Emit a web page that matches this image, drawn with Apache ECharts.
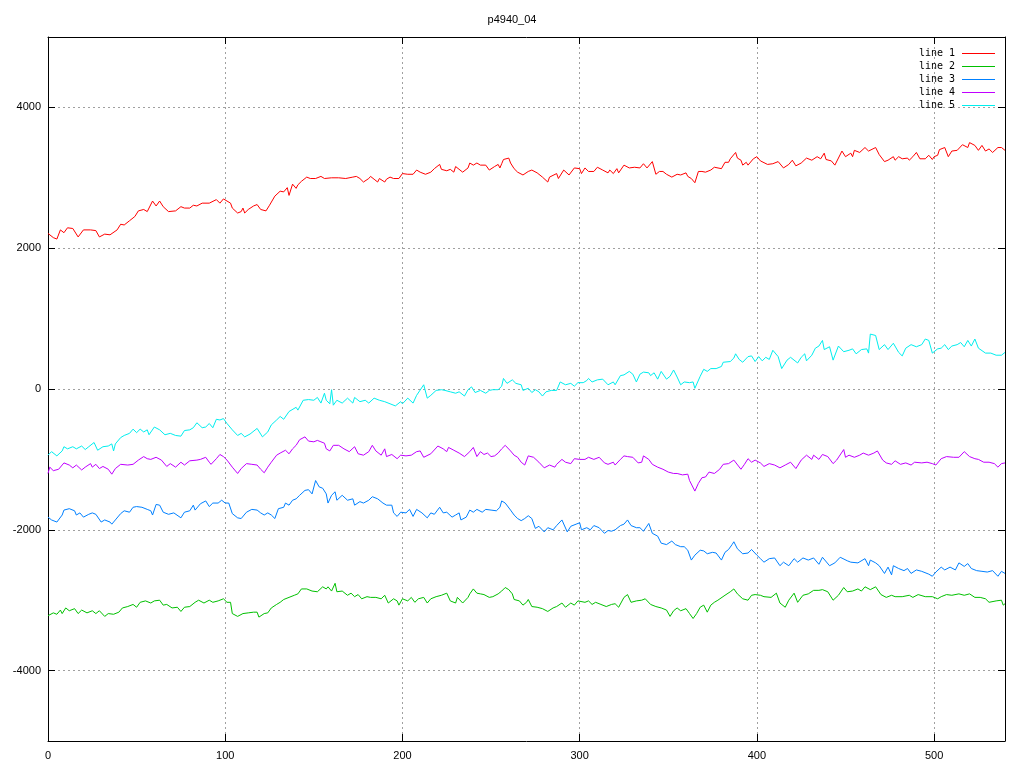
<!DOCTYPE html>
<html>
<head>
<meta charset="utf-8">
<script src="https://cdn.jsdelivr.net/npm/echarts@6/dist/echarts.min.js"></script>
<style>html,body{margin:0;padding:0;background:#fff}#c{width:1024px;height:768px}</style>
</head>
<body>
<div id="c"></div>
<script>
const chartTitle = 'p4940_04';
const seriesNames = ['line 1', 'line 2', 'line 3', 'line 4', 'line 5'];
const xTicks = [0, 100, 200, 300, 400, 500];
const yTicks = [-4000, -2000, 0, 2000, 4000];

// [x, value] pairs
const line1 = [[0,2210],[3,2150],[5,2130],[7,2260],[9,2220],[11,2290],[14,2280],[17,2160],[20,2260],[24,2260],[27,2250],[29,2160],[32,2200],[35,2190],[39,2260],[41,2340],[43,2330],[46,2390],[49,2450],[51,2530],[54,2550],[56,2520],[59,2670],[61,2600],[63,2670],[65,2590],[68,2520],[72,2530],[75,2590],[77,2570],[80,2570],[82,2610],[84,2600],[87,2640],[91,2640],[95,2690],[97,2640],[99,2700],[100,2700],[103,2640],[104,2570],[107,2500],[109,2520],[110,2570],[111,2500],[113,2550],[116,2600],[118,2620],[120,2550],[123,2530],[125,2610],[128,2740],[131,2810],[133,2800],[135,2860],[136,2750],[138,2910],[140,2850],[141,2900],[143,2950],[144,2940],[146,3010],[148,2990],[151,2990],[154,3020],[156,2990],[160,3000],[161,2980],[164,3000],[168,2990],[172,3010],[174,3020],[176,2990],[178,2940],[181,2990],[182,3020],[184,2980],[186,2940],[187,2990],[190,2940],[191,2980],[193,3010],[195,2990],[198,2990],[200,3060],[203,3050],[206,3050],[208,3110],[210,3080],[213,3050],[216,3080],[218,3130],[221,3190],[222,3120],[225,3100],[227,3120],[229,3080],[230,3160],[234,3080],[237,3140],[238,3210],[240,3180],[242,3210],[244,3180],[247,3180],[249,3110],[252,3160],[254,3190],[255,3140],[256,3200],[257,3260],[260,3280],[261,3210],[263,3130],[265,3080],[268,3040],[271,3090],[272,3070],[273,3110],[276,3070],[279,3010],[282,2940],[283,3010],[287,3060],[288,2990],[291,3110],[294,3040],[297,3140],[300,3130],[301,3060],[303,3140],[305,3090],[308,3090],[310,3150],[313,3110],[316,3070],[317,3110],[319,3060],[321,3130],[322,3070],[325,3180],[328,3140],[331,3150],[334,3140],[336,3200],[338,3140],[341,3230],[343,3050],[345,3090],[347,3090],[349,3050],[352,3010],[355,3050],[357,3040],[360,3070],[361,3020],[363,2990],[365,2930],[367,3090],[369,3090],[371,3080],[374,3110],[376,3150],[380,3130],[382,3220],[384,3220],[385,3270],[388,3360],[389,3280],[391,3250],[392,3180],[394,3220],[395,3180],[398,3270],[400,3300],[402,3240],[406,3190],[407,3180],[409,3200],[412,3230],[415,3140],[418,3190],[420,3250],[422,3170],[425,3210],[428,3280],[431,3250],[434,3300],[436,3270],[438,3350],[439,3260],[442,3240],[444,3180],[445,3170],[448,3380],[450,3300],[453,3350],[454,3300],[455,3390],[458,3360],[461,3430],[463,3380],[467,3430],[469,3330],[472,3230],[474,3250],[477,3300],[478,3250],[480,3300],[482,3270],[485,3280],[486,3250],[488,3300],[490,3360],[492,3270],[495,3270],[497,3320],[499,3260],[500,3300],[502,3320],[503,3400],[506,3430],[508,3300],[510,3380],[513,3390],[516,3470],[519,3430],[520,3500],[523,3460],[525,3390],[527,3460],[529,3380],[531,3410],[533,3360],[536,3430],[538,3430],[540,3390]];

const line2 = [[0,-3220],[3,-3180],[5,-3200],[7,-3140],[8,-3190],[10,-3110],[12,-3150],[15,-3120],[17,-3190],[19,-3140],[22,-3180],[25,-3150],[27,-3190],[29,-3150],[32,-3230],[34,-3190],[37,-3200],[40,-3170],[42,-3110],[45,-3090],[48,-3060],[50,-3100],[52,-3030],[55,-3010],[58,-3040],[60,-3010],[63,-3000],[65,-3070],[67,-3060],[70,-3110],[73,-3100],[75,-3160],[77,-3100],[80,-3090],[83,-3030],[85,-3000],[88,-3040],[91,-3000],[93,-3030],[96,-3010],[99,-2980],[101,-3030],[103,-3030],[104,-3190],[107,-3230],[110,-3190],[113,-3180],[116,-3170],[118,-3170],[119,-3240],[122,-3190],[124,-3180],[126,-3110],[129,-3060],[131,-3030],[133,-2990],[136,-2960],[139,-2930],[141,-2910],[143,-2840],[146,-2840],[149,-2870],[152,-2880],[155,-2810],[157,-2840],[158,-2810],[160,-2870],[162,-2760],[163,-2880],[166,-2870],[169,-2930],[171,-2900],[173,-2950],[175,-2920],[177,-2980],[180,-2950],[182,-2960],[185,-2960],[188,-2980],[190,-2930],[192,-3040],[195,-2980],[197,-3010],[198,-3070],[200,-2980],[203,-3010],[205,-2960],[207,-3030],[209,-2980],[212,-2960],[214,-3040],[216,-2980],[219,-2950],[222,-2930],[225,-2900],[227,-3010],[230,-3040],[231,-2960],[234,-3040],[237,-2960],[238,-2910],[240,-2840],[242,-2900],[244,-2910],[246,-2920],[249,-2960],[251,-2950],[254,-2910],[256,-2870],[258,-2820],[260,-2850],[262,-2910],[263,-2990],[266,-3010],[268,-3070],[270,-3030],[271,-2990],[273,-3090],[276,-3100],[279,-3120],[282,-3160],[285,-3110],[287,-3090],[290,-3040],[292,-3100],[295,-3040],[297,-3070],[299,-3010],[303,-3030],[305,-3010],[307,-3060],[309,-3030],[312,-3060],[315,-3090],[318,-3060],[320,-3050],[322,-3100],[325,-2960],[327,-2920],[329,-3030],[332,-3010],[335,-3000],[337,-2980],[340,-3060],[343,-3090],[346,-3110],[349,-3140],[351,-3230],[353,-3150],[355,-3110],[357,-3150],[360,-3120],[362,-3190],[364,-3260],[366,-3190],[368,-3100],[370,-3070],[372,-3170],[374,-3070],[376,-3030],[378,-3000],[382,-2930],[385,-2880],[387,-2840],[389,-2910],[392,-2980],[395,-3000],[397,-2930],[399,-2920],[402,-2930],[404,-2950],[408,-2960],[411,-2900],[413,-3040],[416,-3100],[418,-3000],[421,-2900],[423,-3030],[426,-2930],[429,-2910],[432,-2860],[435,-2860],[437,-2850],[440,-2880],[443,-3000],[446,-2930],[449,-2820],[451,-2880],[454,-2870],[457,-2840],[459,-2870],[461,-2810],[464,-2850],[467,-2810],[468,-2810],[470,-2920],[473,-2960],[476,-2930],[478,-2950],[482,-2950],[486,-2930],[488,-2960],[491,-2920],[495,-2950],[499,-2950],[502,-2980],[504,-2950],[507,-2920],[510,-2930],[514,-2910],[517,-2930],[520,-2910],[523,-2960],[526,-2960],[529,-2980],[531,-3030],[535,-3010],[538,-3000],[539,-3070],[540,-3050]];

const line3 = [[0,-1820],[2,-1860],[5,-1890],[8,-1790],[9,-1720],[12,-1700],[15,-1730],[16,-1790],[18,-1760],[20,-1820],[23,-1780],[25,-1760],[27,-1780],[30,-1890],[32,-1860],[35,-1890],[36,-1920],[38,-1860],[41,-1770],[43,-1730],[46,-1750],[48,-1680],[50,-1670],[53,-1680],[56,-1710],[58,-1730],[59,-1790],[61,-1640],[63,-1650],[65,-1750],[68,-1780],[71,-1760],[75,-1830],[77,-1750],[80,-1730],[82,-1650],[83,-1720],[86,-1630],[89,-1590],[91,-1670],[93,-1620],[96,-1620],[98,-1580],[100,-1620],[102,-1620],[104,-1770],[107,-1830],[109,-1840],[112,-1750],[115,-1710],[118,-1720],[120,-1760],[122,-1790],[124,-1760],[126,-1790],[128,-1840],[130,-1700],[133,-1680],[134,-1620],[136,-1650],[138,-1580],[140,-1560],[142,-1510],[145,-1440],[147,-1430],[149,-1490],[151,-1300],[153,-1390],[155,-1410],[157,-1490],[158,-1620],[160,-1510],[162,-1460],[163,-1580],[166,-1510],[169,-1580],[172,-1560],[173,-1650],[176,-1600],[178,-1620],[181,-1580],[183,-1530],[186,-1560],[189,-1620],[191,-1650],[194,-1650],[195,-1760],[197,-1810],[199,-1750],[202,-1760],[204,-1710],[206,-1810],[208,-1710],[211,-1760],[214,-1830],[216,-1760],[218,-1780],[221,-1680],[223,-1760],[225,-1750],[228,-1820],[230,-1790],[232,-1760],[233,-1860],[236,-1820],[238,-1720],[240,-1750],[242,-1710],[245,-1750],[247,-1710],[250,-1720],[253,-1730],[255,-1680],[256,-1590],[258,-1620],[261,-1720],[263,-1790],[265,-1840],[267,-1870],[269,-1840],[271,-1800],[273,-1840],[275,-1980],[277,-1950],[280,-2030],[282,-1970],[285,-2000],[287,-1940],[290,-1860],[293,-2030],[295,-1950],[298,-1920],[300,-1900],[301,-2000],[304,-1970],[306,-2000],[308,-1940],[311,-1970],[314,-2050],[316,-2010],[318,-2020],[320,-2000],[323,-1940],[325,-1920],[327,-1860],[329,-1940],[332,-1970],[334,-1970],[336,-2020],[339,-1910],[341,-2050],[344,-2090],[346,-2190],[349,-2210],[352,-2160],[354,-2210],[357,-2240],[359,-2240],[361,-2290],[363,-2430],[365,-2360],[368,-2290],[370,-2300],[372,-2340],[375,-2320],[377,-2330],[380,-2430],[382,-2320],[384,-2280],[386,-2210],[387,-2170],[389,-2270],[392,-2340],[395,-2330],[397,-2280],[400,-2360],[402,-2410],[404,-2460],[407,-2410],[410,-2400],[413,-2510],[415,-2460],[418,-2510],[421,-2410],[423,-2460],[426,-2400],[429,-2430],[432,-2400],[435,-2490],[437,-2390],[441,-2510],[444,-2470],[447,-2390],[451,-2440],[453,-2460],[457,-2470],[461,-2410],[463,-2510],[464,-2430],[467,-2470],[469,-2510],[472,-2620],[474,-2530],[476,-2640],[477,-2510],[480,-2550],[483,-2580],[485,-2550],[487,-2620],[490,-2570],[493,-2590],[497,-2630],[499,-2660],[501,-2600],[504,-2530],[506,-2570],[509,-2530],[512,-2570],[514,-2470],[517,-2520],[519,-2480],[521,-2550],[524,-2580],[527,-2590],[530,-2600],[533,-2580],[536,-2660],[538,-2590],[540,-2620]];

const line4 = [[0,-1200],[1,-1110],[3,-1160],[6,-1140],[9,-1050],[12,-1080],[14,-1120],[16,-1080],[19,-1150],[21,-1110],[24,-1060],[25,-1110],[27,-1070],[29,-1130],[31,-1100],[34,-1140],[36,-1210],[38,-1130],[41,-1070],[42,-1080],[45,-1080],[48,-1070],[51,-1010],[54,-960],[56,-990],[58,-1000],[61,-970],[64,-1010],[67,-1100],[69,-1060],[72,-1110],[75,-1040],[77,-1080],[80,-1020],[84,-1010],[86,-1000],[89,-970],[91,-1040],[92,-1070],[95,-990],[97,-930],[99,-960],[101,-1010],[104,-1110],[107,-1200],[109,-1130],[112,-1060],[115,-1070],[118,-1080],[120,-1140],[122,-1190],[124,-1110],[126,-1040],[129,-940],[131,-910],[134,-870],[135,-880],[136,-920],[138,-850],[140,-800],[142,-720],[145,-680],[147,-740],[150,-750],[152,-730],[154,-750],[156,-770],[157,-850],[159,-880],[161,-800],[164,-800],[167,-850],[170,-890],[173,-820],[175,-920],[178,-940],[181,-890],[183,-800],[185,-880],[188,-940],[190,-850],[191,-960],[194,-930],[197,-990],[199,-940],[202,-950],[205,-940],[208,-890],[210,-880],[212,-970],[216,-920],[220,-810],[223,-850],[225,-890],[226,-830],[229,-870],[232,-910],[235,-960],[238,-890],[240,-830],[242,-960],[244,-890],[246,-930],[248,-910],[250,-960],[252,-950],[254,-910],[256,-850],[258,-800],[261,-880],[263,-940],[265,-970],[267,-1040],[269,-1080],[271,-950],[274,-970],[277,-1040],[280,-1120],[283,-1080],[286,-1110],[287,-1070],[290,-1000],[292,-1040],[295,-1060],[297,-990],[300,-1000],[303,-1000],[305,-970],[308,-1000],[311,-970],[314,-1050],[316,-1070],[319,-1040],[320,-1080],[323,-1000],[325,-950],[327,-960],[330,-970],[333,-1050],[335,-1040],[336,-950],[339,-1000],[341,-1070],[344,-1110],[347,-1140],[350,-1180],[353,-1200],[355,-1200],[358,-1220],[361,-1210],[362,-1300],[363,-1350],[365,-1450],[367,-1340],[369,-1260],[371,-1250],[373,-1180],[376,-1200],[379,-1140],[381,-1070],[384,-1060],[387,-1010],[388,-990],[391,-1140],[393,-1070],[395,-990],[397,-1040],[399,-1010],[402,-1050],[404,-1100],[407,-1060],[410,-1080],[413,-1120],[416,-1080],[419,-1040],[422,-1130],[425,-1010],[428,-940],[431,-1000],[432,-940],[435,-1000],[437,-930],[440,-960],[443,-1060],[445,-1010],[449,-860],[450,-970],[452,-940],[455,-970],[458,-940],[460,-910],[463,-940],[466,-910],[468,-880],[471,-1010],[473,-1050],[476,-1070],[478,-1020],[481,-1070],[484,-1050],[487,-1080],[489,-1040],[493,-1050],[496,-1040],[499,-1060],[501,-1080],[504,-990],[507,-960],[511,-970],[514,-970],[517,-890],[520,-960],[523,-990],[525,-1000],[528,-1040],[531,-1040],[534,-1060],[536,-1110],[538,-1060],[540,-1050]];

const line5 = [[0,-940],[2,-890],[5,-950],[8,-880],[9,-820],[11,-850],[14,-820],[16,-850],[19,-810],[21,-860],[23,-820],[26,-760],[28,-870],[31,-820],[34,-810],[36,-780],[37,-880],[38,-780],[41,-690],[43,-660],[46,-630],[48,-570],[50,-620],[52,-570],[54,-610],[56,-580],[57,-650],[60,-540],[63,-580],[66,-650],[69,-630],[72,-660],[75,-670],[77,-590],[80,-580],[82,-550],[84,-480],[87,-550],[89,-540],[91,-490],[93,-550],[95,-430],[97,-440],[99,-420],[101,-490],[104,-580],[107,-660],[109,-630],[111,-680],[114,-640],[118,-560],[119,-580],[121,-680],[124,-610],[126,-510],[129,-440],[131,-390],[133,-430],[136,-320],[140,-260],[141,-300],[144,-160],[147,-150],[150,-160],[152,-120],[154,-200],[156,-60],[157,-160],[159,-210],[160,-10],[161,-230],[163,-160],[166,-200],[169,-130],[172,-200],[173,-120],[176,-180],[179,-160],[181,-200],[184,-130],[187,-160],[190,-180],[193,-210],[196,-240],[199,-180],[200,-210],[203,-130],[206,-200],[208,-90],[212,60],[214,-130],[216,-90],[219,-20],[222,-10],[224,-20],[227,-40],[230,-60],[232,-40],[235,-100],[237,-10],[239,30],[241,-50],[244,-20],[247,-60],[249,-20],[251,-10],[254,-10],[256,40],[257,150],[259,80],[262,130],[264,80],[267,60],[268,-20],[271,10],[273,-50],[275,-10],[277,-40],[279,-100],[281,-40],[284,-20],[287,-20],[289,100],[292,60],[295,80],[297,40],[299,90],[302,90],[304,120],[305,150],[307,100],[310,130],[313,140],[316,60],[319,100],[320,60],[323,190],[325,200],[328,250],[330,210],[332,100],[334,210],[336,240],[339,230],[340,190],[342,230],[344,140],[346,250],[349,140],[351,180],[353,270],[355,170],[357,60],[359,100],[362,90],[364,100],[365,10],[368,180],[370,280],[372,250],[374,290],[377,290],[380,320],[381,380],[385,390],[387,440],[388,500],[390,420],[392,380],[395,460],[397,470],[399,390],[401,460],[403,400],[405,450],[407,420],[409,550],[412,460],[414,290],[417,410],[419,450],[423,370],[425,450],[427,500],[428,400],[431,480],[433,580],[435,610],[437,690],[438,560],[441,600],[443,410],[446,610],[449,530],[452,550],[454,570],[456,500],[459,560],[462,570],[463,510],[464,780],[467,760],[469,560],[470,540],[472,630],[474,560],[477,650],[480,520],[482,470],[484,580],[487,630],[490,600],[493,630],[495,710],[497,690],[499,510],[502,570],[504,580],[506,630],[508,560],[510,610],[513,630],[515,660],[517,600],[519,690],[521,610],[523,710],[525,580],[529,510],[532,510],[535,480],[538,480],[540,520]];

const seriesData = [line1, line2, line3, line4, line5];
const colors = ['#ff0000', '#00c000', '#0080ff', '#c000ff', '#00eeee'];

const chart = echarts.init(document.getElementById('c'), null, { renderer: 'canvas' });
const baseFont = 'Liberation Sans, Arial, sans-serif';
const tickStyle = { show: true, inside: true, length: 7, lineStyle: { color: '#000', width: 1 } };
const axisLineStyle = { show: true, onZero: false, lineStyle: { color: '#000', width: 1 } };
const gridLineStyle = { show: true, lineStyle: { color: '#a0a0a0', type: [2, 3], width: 1 } };
// thin 1px sample line in the middle of a 33x13 legend icon box
const legendIcon = 'path://M0,0L0.01,0L0.01,0.01ZM0,6H33V7H0ZM33,13L32.99,13L32.99,12.99Z';

chart.setOption({
  animation: false,
  backgroundColor: '#fff',
  title: {
    text: chartTitle, left: 'center', top: 9,
    textStyle: { fontFamily: baseFont, fontSize: 11, fontWeight: 'normal', color: '#000' }
  },
  legend: {
    orient: 'vertical', right: 24, top: 42, align: 'right',
    icon: legendIcon, itemWidth: 33, itemHeight: 13, itemGap: 0,
    itemStyle: { borderWidth: 0, borderColor: 'transparent', shadowBlur: 0 },
    textStyle: { fontFamily: 'DejaVu Sans Mono, monospace', fontSize: 10, color: '#000', lineHeight: 13, padding: [0, 2, 0, 0] },
    data: seriesNames
  },
  grid: { left: 48, right: 19, top: 37, bottom: 27, containLabel: false },
  xAxis: [{
    type: 'value', min: 0, max: 540, interval: 100,
    axisLine: axisLineStyle,
    axisTick: tickStyle,
    axisLabel: {
      margin: 9, fontFamily: baseFont, fontSize: 11, color: '#000', showMaxLabel: false,
      formatter: v => (xTicks.indexOf(v) >= 0 ? String(v) : '')
    },
    splitLine: gridLineStyle
  }, {
    type: 'value', min: 0, max: 540, interval: 100, position: 'top',
    axisLine: axisLineStyle,
    axisTick: tickStyle, axisLabel: { show: false }, splitLine: { show: false }
  }],
  yAxis: [{
    type: 'value', min: -5000, max: 5000, splitNumber: 5,
    axisLine: axisLineStyle,
    axisTick: tickStyle,
    axisLabel: {
      margin: 7, fontFamily: baseFont, fontSize: 11, color: '#000',
      showMinLabel: false, showMaxLabel: false,
      formatter: v => (yTicks.indexOf(v) >= 0 ? String(v) : '')
    },
    splitLine: gridLineStyle
  }, {
    type: 'value', min: -5000, max: 5000, splitNumber: 5, position: 'right',
    axisLine: axisLineStyle,
    axisTick: tickStyle, axisLabel: { show: false }, splitLine: { show: false }
  }],
  series: seriesNames.map((name, i) => ({
    name, type: 'line', xAxisIndex: 0, yAxisIndex: 0,
    data: seriesData[i], showSymbol: false, symbol: 'none',
    color: colors[i],
    lineStyle: { color: colors[i], width: 1 },
    emphasis: { disabled: true }
  }))
});
</script>
</body>
</html>
